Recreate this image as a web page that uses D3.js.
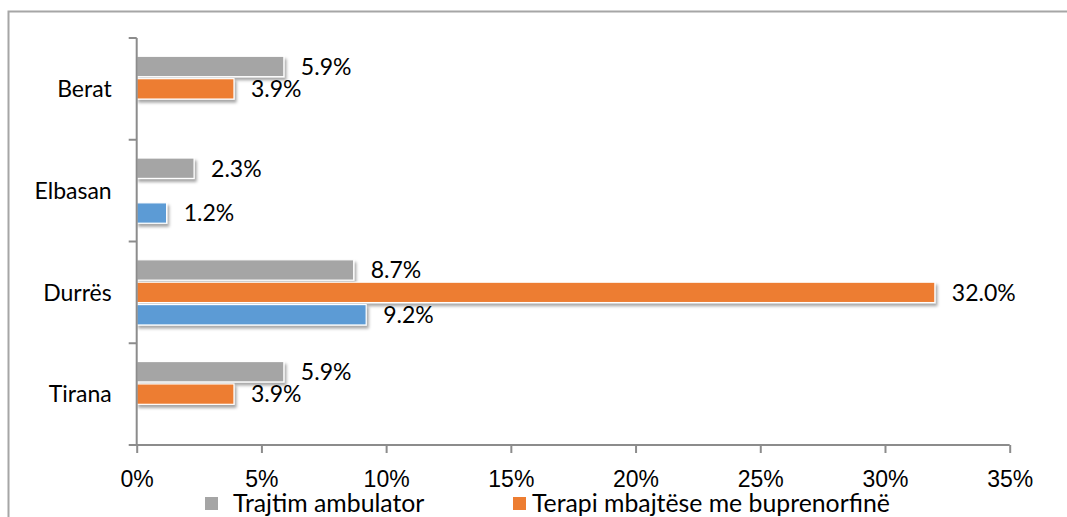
<!DOCTYPE html>
<html>
<head>
<meta charset="utf-8">
<script src="https://cdn.jsdelivr.net/npm/d3@7"></script>
<style>
  html, body { margin: 0; padding: 0; background: #fff; overflow: hidden; }
  svg { display: block; font-family: Lato, "Open Sans", sans-serif; }
</style>
</head>
<body>
<svg id="chart" width="1067" height="517"></svg>
<script>
// Districts, top to bottom
const cities = ["Berat", "Elbasan", "Durrës", "Tirana"];
// Series names
const seriesNames = ["Trajtim ambulator", "Terapi mbajtëse me buprenorfinë", "Terapi mbajtëse me metadon"];
// Values per district (null = no bar)
const ambulator     = [0.059, 0.023, 0.087, 0.059];
const buprenorfine  = [0.039, null,  0.320, 0.039];
const metadon       = [null,  0.012, 0.092, null];
const seriesColors  = ["#a5a5a5", "#ed7d31", "#5b9bd5"];
const xTicks = [0, 0.05, 0.10, 0.15, 0.20, 0.25, 0.30, 0.35];

const seriesValues = [ambulator, buprenorfine, metadon];

const svg = d3.select("#chart");
const axisColor = "#8c8c8c";
const fontSize = 23;

// Drop shadow for bars
const defs = svg.append("defs");
const f = defs.append("filter").attr("id", "shadow")
  .attr("x", "-10%").attr("y", "-30%").attr("width", "130%").attr("height", "180%");
f.append("feDropShadow").attr("dx", 2).attr("dy", 3).attr("stdDeviation", 1.8)
  .attr("flood-color", "#000").attr("flood-opacity", 0.35);

// Outer frame
svg.append("rect")
  .attr("x", 8.5).attr("y", 11.5).attr("width", 1200).attr("height", 700)
  .attr("fill", "none").attr("stroke", "#a6a6a6").attr("stroke-width", 2);

const x = d3.scaleLinear().domain([0, 0.35]).range([136.7, 1009.7]);
const y0 = d3.scaleBand().domain(cities).range([38, 445]).padding(0);
const y1 = d3.scaleBand().domain(d3.range(3)).range([0, y0.bandwidth()])
  .paddingInner(0.09).paddingOuter(0.816);

const cells = [];
cities.forEach((c, ci) => {
  seriesValues.forEach((vals, si) => {
    if (vals[ci] != null) cells.push({ city: c, s: si, v: vals[ci] });
  });
});

// Bars
const barLayer = svg.append("g");
barLayer.selectAll("rect").data(cells).join("rect")
  .attr("x", x(0))
  .attr("y", d => y0(d.city) + y1(d.s))
  .attr("width", d => x(d.v) - x(0))
  .attr("height", y1.bandwidth())
  .attr("fill", d => seriesColors[d.s])
  .attr("stroke", "#fff").attr("stroke-width", 1.2)
  .attr("filter", "url(#shadow)");

// Value labels
svg.append("g").selectAll("text").data(cells).join("text")
  .attr("x", d => x(d.v) + 17)
  .attr("y", d => y0(d.city) + y1(d.s) + y1.bandwidth() / 2)
  .attr("dy", "0.36em")
  .attr("font-size", fontSize).attr("fill", "#000")
  .text(d => d3.format(".1%")(d.v));

// X axis
const xAxis = svg.append("g").attr("transform", `translate(0,445)`)
  .call(d3.axisBottom(x).tickValues(xTicks).tickFormat(d3.format(".0%")).tickSize(8).tickSizeOuter(0));
xAxis.select(".domain").remove();
xAxis.append("line").attr("x1", 129).attr("x2", x(0.35)).attr("y1", 0).attr("y2", 0)
  .attr("stroke", axisColor).attr("stroke-width", 2);
xAxis.selectAll(".tick line").attr("stroke", axisColor).attr("stroke-width", 2);
xAxis.selectAll(".tick text").attr("font-size", fontSize).attr("fill", "#000")
  .attr("font-family", null).attr("y", 26).attr("dy", "0.71em");

// Y axis: line with ticks at category boundaries
const yAxis = svg.append("g");
yAxis.append("line").attr("x1", x(0)).attr("x2", x(0))
  .attr("y1", y0.range()[0]).attr("y2", y0.range()[1])
  .attr("stroke", axisColor).attr("stroke-width", 2);
const bounds = cities.map(c => y0(c)).concat([y0.range()[1]]);
yAxis.selectAll("line.tk").data(bounds).join("line").attr("class", "tk")
  .attr("x1", x(0) - 8).attr("x2", x(0)).attr("y1", d => d).attr("y2", d => d)
  .attr("stroke", axisColor).attr("stroke-width", 2);
yAxis.selectAll("text").data(cities).join("text")
  .attr("x", x(0) - 25)
  .attr("y", d => y0(d) + y0.bandwidth() / 2)
  .attr("dy", "0.36em")
  .attr("text-anchor", "end")
  .attr("font-size", fontSize).attr("fill", "#000")
  .text(d => d);

// Legend (third entry wraps to a second row)
const legendPos = [[205, 497, 28], [513, 497, 19], [205, 530, 28]];
const legend = svg.append("g").selectAll("g").data(seriesNames).join("g")
  .attr("transform", (d, i) => `translate(${legendPos[i][0]},${legendPos[i][1]})`);
legend.append("rect").attr("width", 13).attr("height", 13)
  .attr("fill", (d, i) => seriesColors[i]);
legend.append("text").attr("x", (d, i) => legendPos[i][2]).attr("y", 14.5)
  .attr("font-size", 24.8).attr("fill", "#000")
  .text(d => d);
</script>
</body>
</html>
